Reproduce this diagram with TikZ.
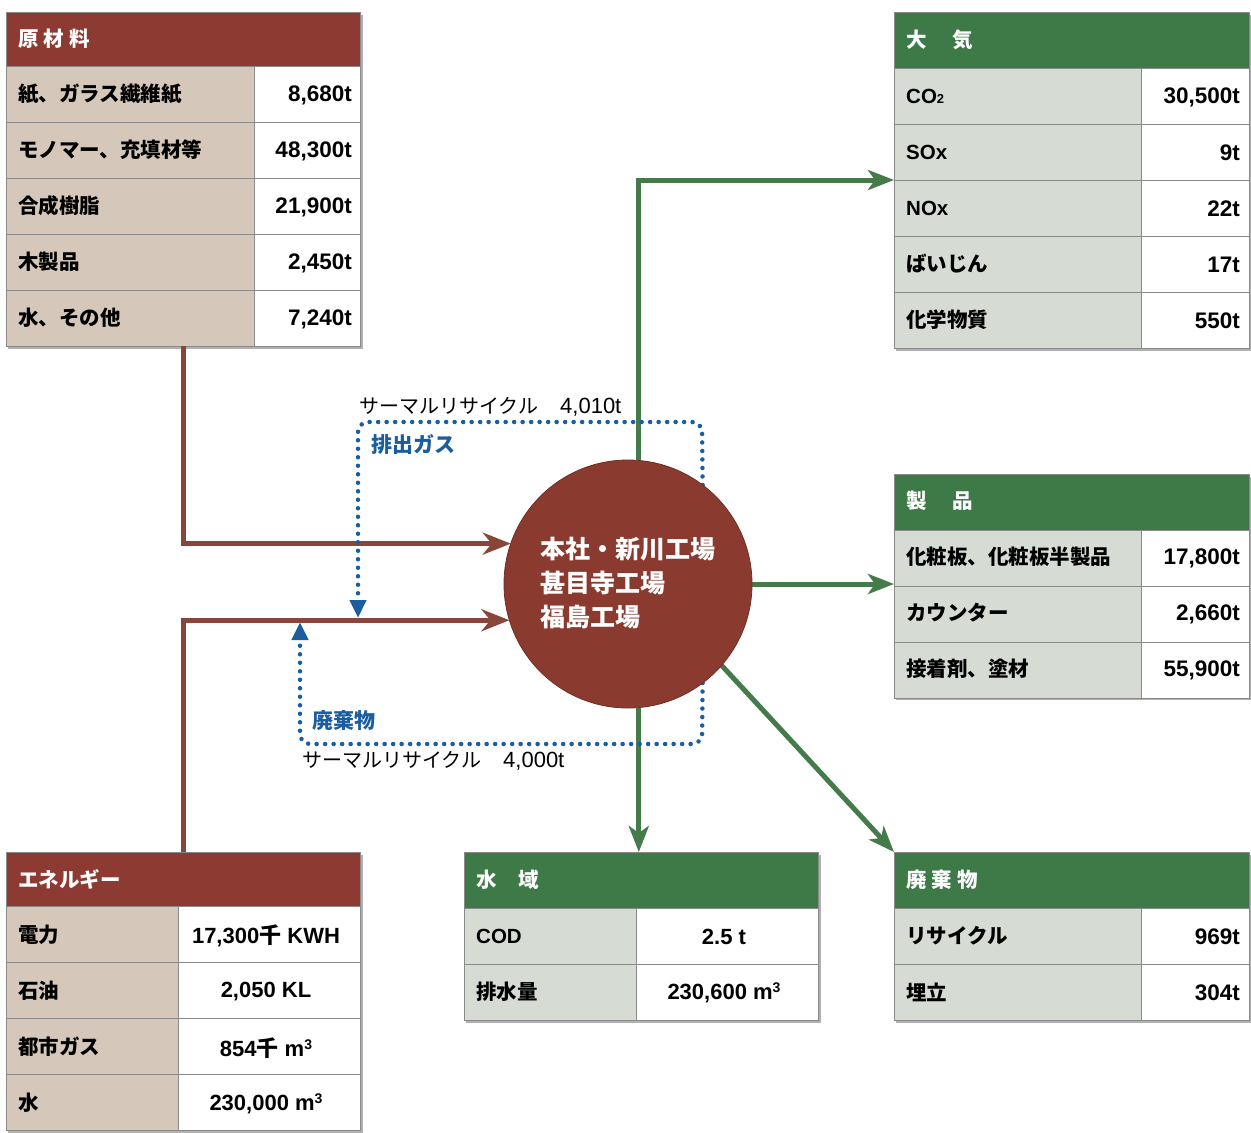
\documentclass[tikz,border=0pt]{standalone}
\usepackage{fontspec}
\setmainfont{Noto Sans CJK JP}
\newfontfamily\jpf{Noto Sans CJK JP}
\newfontfamily\latn{Liberation Sans}
\usetikzlibrary{arrows.meta,calc}
\definecolor{hred}{HTML}{8C3A32}
\definecolor{cred}{HTML}{8A3A2F}
\definecolor{ared}{HTML}{8A453B}
\definecolor{tanc}{HTML}{D5C8BA}
\definecolor{hgreen}{HTML}{3E7A47}
\definecolor{lgreen}{HTML}{D6DBD4}
\definecolor{agreen}{HTML}{457A4B}
\definecolor{dblue}{HTML}{1B5E9F}
\definecolor{gridc}{HTML}{8A8A8A}
\definecolor{shadc}{HTML}{B0B0B0}
\newcommand{\cubic}{\raisebox{7pt}{\fontsize{14}{14}\selectfont 3}}
\newcommand{\sen}{{\jpf\bfseries 千}}
\begin{document}
\begin{tikzpicture}[x=1pt,y=-1pt,
  cell/.style={draw=gridc, line width=1pt, anchor=north west, inner sep=0pt, outer sep=0pt},
  tblbox/.style={draw=gridc, line width=1pt, anchor=north west, inner sep=0pt, outer sep=0pt, fill=white},
  hdrtxt/.style={text=white, font=\bfseries\fontsize{20.5}{24}\selectfont, anchor=west, inner sep=0pt},
  labtxt/.style={font=\bfseries\fontsize{20.5}{24}\selectfont, anchor=west, inner sep=0pt},
  valtxt/.style={font=\latn\bfseries\fontsize{22.5}{24}\selectfont, anchor=east, inner sep=0pt},
  cvaltxt/.style={font=\latn\bfseries\fontsize{22}{24}\selectfont, anchor=center, inner sep=0pt},
  redarr/.style={draw=ared, line width=5pt, -{Stealth[length=28pt,width=22pt,inset=9pt]}},
  greenarr/.style={draw=agreen, line width=5pt, -{Stealth[length=26pt,width=20pt,inset=7pt]}},
  bluedot/.style={draw=dblue, line width=4.5pt, line cap=round, dash pattern=on 0pt off 8.5pt, rounded corners=10pt, -{Triangle[length=18pt,width=16pt]}},
  recyc/.style={font=\fontsize{20}{24}\selectfont, anchor=west, inner sep=0pt},
  bluetxt/.style={font=\bfseries\fontsize{21}{24}\selectfont, text=dblue, anchor=west, inner sep=0pt}
]
\useasboundingbox (0,0) rectangle (1251,1133);
\fill[white] (0,0) rectangle (1251,1133);

% ---------- shadows ----------
\fill[shadc] (8,15) rectangle (363,349);
\fill[shadc] (896,15) rectangle (1251,351);
\fill[shadc] (896,477) rectangle (1251,700);
\fill[shadc] (8,855) rectangle (363,1133);
\fill[shadc] (466,855) rectangle (821,1023);
\fill[shadc] (896,855) rectangle (1251,1023);

% ---------- 原材料 ----------
\node[tblbox, minimum width=354, minimum height=334] (raw) at (6,12) {};
\node[cell, fill=hred, minimum width=354, minimum height=54] (rawH) at (6,12) {};
\node[hdrtxt] (rawHt) at (18,39) {原\hspace{5pt}材\hspace{5pt}料};
\foreach \i/\a/\b in {0/{紙、ガラス繊維紙}/{8,680t},1/{モノマー、充填材等}/{48,300t},2/{合成樹脂}/{21,900t},3/{木製品}/{2,450t},4/{水、その他}/{7,240t}}{
  \node[cell, fill=tanc, minimum width=248, minimum height=56] (raw-l\i) at (6,{66+56*\i}) {};
  \node[cell, fill=white, minimum width=106, minimum height=56] (raw-v\i) at (254,{66+56*\i}) {};
  \node[labtxt] (raw-a\i) at (18,{94+56*\i}) {\a};
  \node[valtxt] (raw-b\i) at (352,{95+56*\i}) {\b};
}

% ---------- 大気 ----------
\node[tblbox, minimum width=355, minimum height=336] (air) at (894,12) {};
\node[cell, fill=hgreen, minimum width=355, minimum height=56] (airH) at (894,12) {};
\node[hdrtxt] (airHt) at (906,40) {大\hspace{26pt}気};
\foreach \i/\a/\b in {0/{{\latn CO}{\latn\fontsize{13}{13}\selectfont 2}}/{30,500t},1/{{\latn SOx}}/{9t},2/{{\latn NOx}}/{22t},3/{ばいじん}/{17t},4/{化学物質}/{550t}}{
  \node[cell, fill=lgreen, minimum width=247, minimum height=56] (air-l\i) at (894,{68+56*\i}) {};
  \node[cell, fill=white, minimum width=108, minimum height=56] (air-v\i) at (1141,{68+56*\i}) {};
  \node[labtxt] (air-a\i) at (906,{96+56*\i}) {\a};
  \node[valtxt] (air-b\i) at (1240,{97+56*\i}) {\b};
}

% ---------- 製品 ----------
\node[tblbox, minimum width=355, minimum height=224] (prod) at (894,474) {};
\node[cell, fill=hgreen, minimum width=355, minimum height=56] (prodH) at (894,474) {};
\node[hdrtxt] (prodHt) at (906,501) {製\hspace{26pt}品};
\foreach \i/\a/\b in {0/{化粧板、化粧板半製品}/{17,800t},1/{カウンター}/{2,660t},2/{接着剤、塗材}/{55,900t}}{
  \node[cell, fill=lgreen, minimum width=247, minimum height=56] (prod-l\i) at (894,{530+56*\i}) {};
  \node[cell, fill=white, minimum width=108, minimum height=56] (prod-v\i) at (1141,{530+56*\i}) {};
  \node[labtxt] (prod-a\i) at (906,{557+56*\i}) {\a};
  \node[valtxt] (prod-b\i) at (1240,{558+56*\i}) {\b};
}

% ---------- エネルギー ----------
\node[tblbox, minimum width=354, minimum height=278] (ene) at (6,852) {};
\node[cell, fill=hred, minimum width=354, minimum height=54] (eneH) at (6,852) {};
\node[hdrtxt] (eneHt) at (18,879) {エネルギー};
\foreach \i/\a/\b in {0/{電力}/{17,300\sen{} KWH},1/{石油}/{2,050 KL},2/{都市ガス}/{854\sen{} m\cubic},3/{水}/{230,000 m\cubic}}{
  \node[cell, fill=tanc, minimum width=172, minimum height=56] (ene-l\i) at (6,{906+56*\i}) {};
  \node[cell, fill=white, minimum width=182, minimum height=56] (ene-v\i) at (178,{906+56*\i}) {};
  \node[labtxt] (ene-a\i) at (18,{935+56*\i}) {\a};
  \node[cvaltxt] (ene-b\i) at (266,{936+56*\i}) {\b};
}

% ---------- 水域 ----------
\node[tblbox, minimum width=354, minimum height=168] (water) at (464,852) {};
\node[cell, fill=hgreen, minimum width=354, minimum height=56] (waterH) at (464,852) {};
\node[hdrtxt] (waterHt) at (476,880) {水\hspace{22pt}域};
\foreach \i/\a/\b in {0/{{\latn COD}}/{2.5 t},1/{排水量}/{230,600 m\cubic}}{
  \node[cell, fill=lgreen, minimum width=172, minimum height=56] (water-l\i) at (464,{908+56*\i}) {};
  \node[cell, fill=white, minimum width=182, minimum height=56] (water-v\i) at (636,{908+56*\i}) {};
  \node[labtxt] (water-a\i) at (476,{936+56*\i}) {\a};
  \node[cvaltxt] (water-b\i) at (724,{937+56*\i}) {\b};
}

% ---------- 廃棄物 ----------
\node[tblbox, minimum width=355, minimum height=168] (waste) at (894,852) {};
\node[cell, fill=hgreen, minimum width=355, minimum height=56] (wasteH) at (894,852) {};
\node[hdrtxt] (wasteHt) at (906,880) {廃\hspace{5pt}棄\hspace{5pt}物};
\foreach \i/\a/\b in {0/{リサイクル}/{969t},1/{埋立}/{304t}}{
  \node[cell, fill=lgreen, minimum width=247, minimum height=56] (waste-l\i) at (894,{908+56*\i}) {};
  \node[cell, fill=white, minimum width=108, minimum height=56] (waste-v\i) at (1141,{908+56*\i}) {};
  \node[labtxt] (waste-a\i) at (906,{936+56*\i}) {\a};
  \node[valtxt] (waste-b\i) at (1240,{937+56*\i}) {\b};
}

% ---------- factory circle (placed for anchors) ----------
\node[circle, minimum size=248pt, inner sep=0pt, outer sep=0pt] (fac) at (628,584) {};

% ---------- connectors ----------
\draw[redarr] (raw.south) |- (fac.161);
\draw[redarr] (ene.north) |- (fac.197);
\draw[greenarr] (fac.85) |- (air.west);
\draw[greenarr] (fac.east) -- (prod.west |- fac.east);
\draw[greenarr] (fac.275) -- (fac.275 |- water.north);
\draw[greenarr] (fac.-41.5) -- (waste.north west);

% dotted recycle loops
\coordinate (gTR) at (702,422);
\coordinate (gTL) at (358,422);
\coordinate (gEnd) at (358,618);
\coordinate (wBR) at (702,744);
\coordinate (wBL) at (300,744);
\coordinate (wEnd) at (300,622);
\draw[bluedot] (fac.53.4) -- (gTR) -- (gTL) -- (gEnd);
\draw[bluedot] (fac.-53.4) -- (wBR) -- (wBL) -- (wEnd);

% circle drawn on top
\node[circle, fill=cred, draw=cred!80!black, line width=0.8pt, minimum size=248pt, inner sep=0pt] (facC) at (fac) {};
\node[anchor=west, align=left, text=white, inner sep=0pt, font=\bfseries\fontsize{25}{34}\selectfont] (facT) at (540,583) {本社・新川工場\\甚目寺工場\\福島工場};

% labels
\node[recyc] (rc1) at (359,407) {サーマルリサイクル\hspace{22pt}{\latn\fontsize{22}{24}\selectfont 4,010t}};
\node[bluetxt] (gas) at (371,444) {排出ガス};
\node[bluetxt] (wst) at (312,721) {廃棄物};
\node[recyc] (rc2) at (302,761) {サーマルリサイクル\hspace{22pt}{\latn\fontsize{22}{24}\selectfont 4,000t}};
\end{tikzpicture}
\end{document}
